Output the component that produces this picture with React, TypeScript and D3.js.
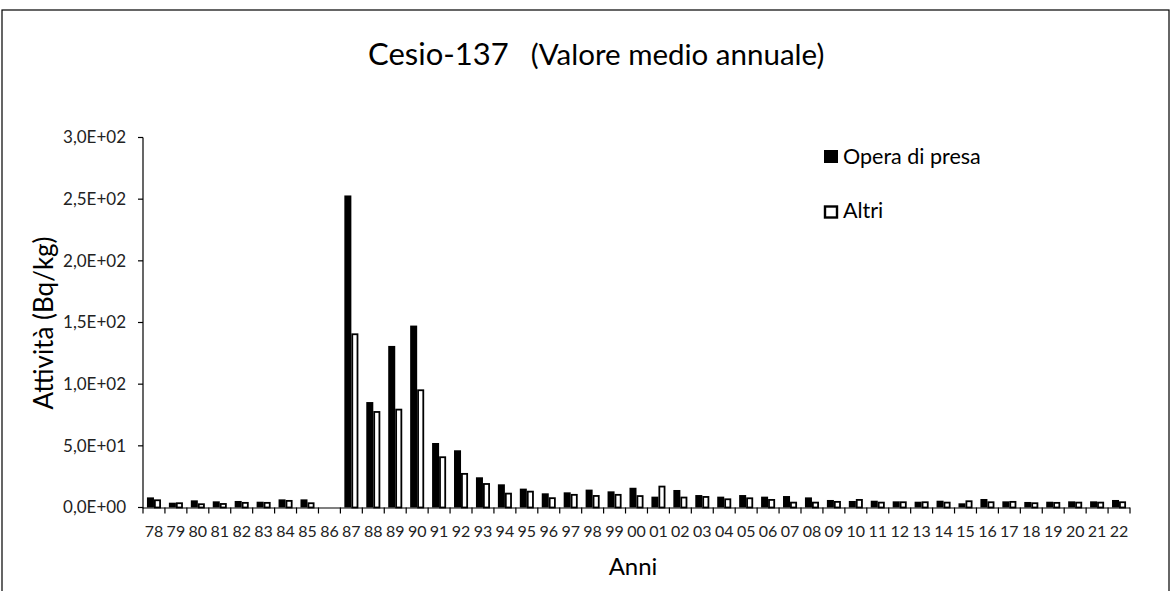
import React from "react";
import * as d3 from "d3";

const categories = ["78","79","80","81","82","83","84","85","86","87","88","89","90","91","92","93","94","95","96","97","98","99","00","01","02","03","04","05","06","07","08","09","10","11","12","13","14","15","16","17","18","19","20","21","22"];
const operaDiPresa = [8.2,3.9,5.8,5.0,5.3,4.7,6.6,6.6,0,253,85.5,131,147.5,52.3,46.4,24.5,18.8,15.3,11.5,12.3,14.5,13.1,16,8.8,14.2,10.1,8.8,10.1,8.8,9.3,8.2,6.1,5.3,5.5,5.0,4.7,5.5,3.4,6.9,5.0,4.5,4.7,5.0,5.0,6.1];
const altri = [6.6,4.2,3.4,3.6,4.5,4.5,6.1,4.2,0,141.2,78.2,80.1,95.8,41.5,28,19.8,12,13.6,8.3,11,10.1,11,10,17.7,8.8,9.3,7.4,8.2,6.9,4.7,4.7,5.3,6.9,4.7,5.0,5.0,4.7,5.8,5.0,5.3,4.2,4.5,4.7,4.7,5.0];
const yTicks = [0, 50, 100, 150, 200, 250, 300];
const yTickLabels = ["0,0E+00","5,0E+01","1,0E+02","1,5E+02","2,0E+02","2,5E+02","3,0E+02"];
const seriesNames = ["Opera di presa", "Altri"];

const W = 1172, H = 591;
const m = { left: 143, right: 1130, top: 137.5, bottom: 507.5 };
const font = "Lato, 'Open Sans', sans-serif";

export default function App() {
  const x = d3.scaleBand<string>().domain(categories).range([m.left, m.right]);
  const y = d3.scaleLinear().domain([0, 300]).range([m.bottom, m.top]);
  const bw = x.bandwidth() * 0.32;
  const off = (x.bandwidth() - 2 * bw) / 2;

  return (
    <svg width={W} height={H} style={{ position: "absolute", left: 0, top: 0, background: "#fff" }} fontFamily={font}>
      <rect x={2} y={10} width={1167} height={600} fill="#fff" stroke="#000" strokeWidth={1.2} />
      <text x={368} y={65} fontSize={31} fill="#000">
        Cesio-137<tspan fontSize={29.5} dx={22}>(Valore medio annuale)</tspan>
      </text>
      {/* bars */}
      {categories.map((c, i) => {
        const x0 = (x(c) as number) + off;
        const v1 = operaDiPresa[i];
        const v2 = altri[i];
        return (
          <g key={c}>
            {v1 > 0 && <rect x={x0} y={y(v1)} width={bw} height={y(0) - y(v1)} fill="#000" />}
            {v2 > 0 && (
              <rect x={x0 + bw + 0.9} y={y(v2) + 0.9} width={bw - 1.8} height={Math.max(0, y(0) - y(v2) - 0.9)} fill="#fff" stroke="#000" strokeWidth={1.8} />
            )}
          </g>
        );
      })}
      {/* y axis */}
      <line x1={m.left} x2={m.left} y1={m.top} y2={m.bottom + 1} stroke="#000" strokeWidth={1.2} />
      {yTicks.map((t, i) => (
        <g key={t}>
          <line x1={m.left - 5} x2={m.left} y1={y(t)} y2={y(t)} stroke="#000" strokeWidth={1.2} />
          <text x={126} y={y(t)} dy="0.35em" textAnchor="end" fontSize={17} fill="#222">{yTickLabels[i]}</text>
        </g>
      ))}
      {/* x axis */}
      <line x1={m.left} x2={m.right} y1={m.bottom + 0.5} y2={m.bottom + 0.5} stroke="#000" strokeWidth={1.2} />
      {[...categories.map((c) => x(c) as number), m.right].map((p, i) => (
        <line key={i} x1={p} x2={p} y1={m.bottom} y2={m.bottom + 6} stroke="#000" strokeWidth={1.2} />
      ))}
      {categories.map((c) => (
        <text key={c} x={(x(c) as number) + x.bandwidth() / 2} y={537} textAnchor="middle" fontSize={16} fill="#222">{c}</text>
      ))}
      <text x={633} y={575} textAnchor="middle" fontSize={24} fill="#000">Anni</text>
      <text transform={`translate(53,323) rotate(-90)`} textAnchor="middle" fontSize={26} fill="#000">Attività (Bq/kg)</text>
      {/* legend */}
      <rect x={824} y={150} width={14} height={13} fill="#000" />
      <text x={843} y={164} fontSize={21.5} fill="#000">{seriesNames[0]}</text>
      <rect x={825} y={206.5} width={12} height={11} fill="#fff" stroke="#000" strokeWidth={2.4} />
      <text x={843} y={218} fontSize={21.5} fill="#000">{seriesNames[1]}</text>
    </svg>
  );
}
